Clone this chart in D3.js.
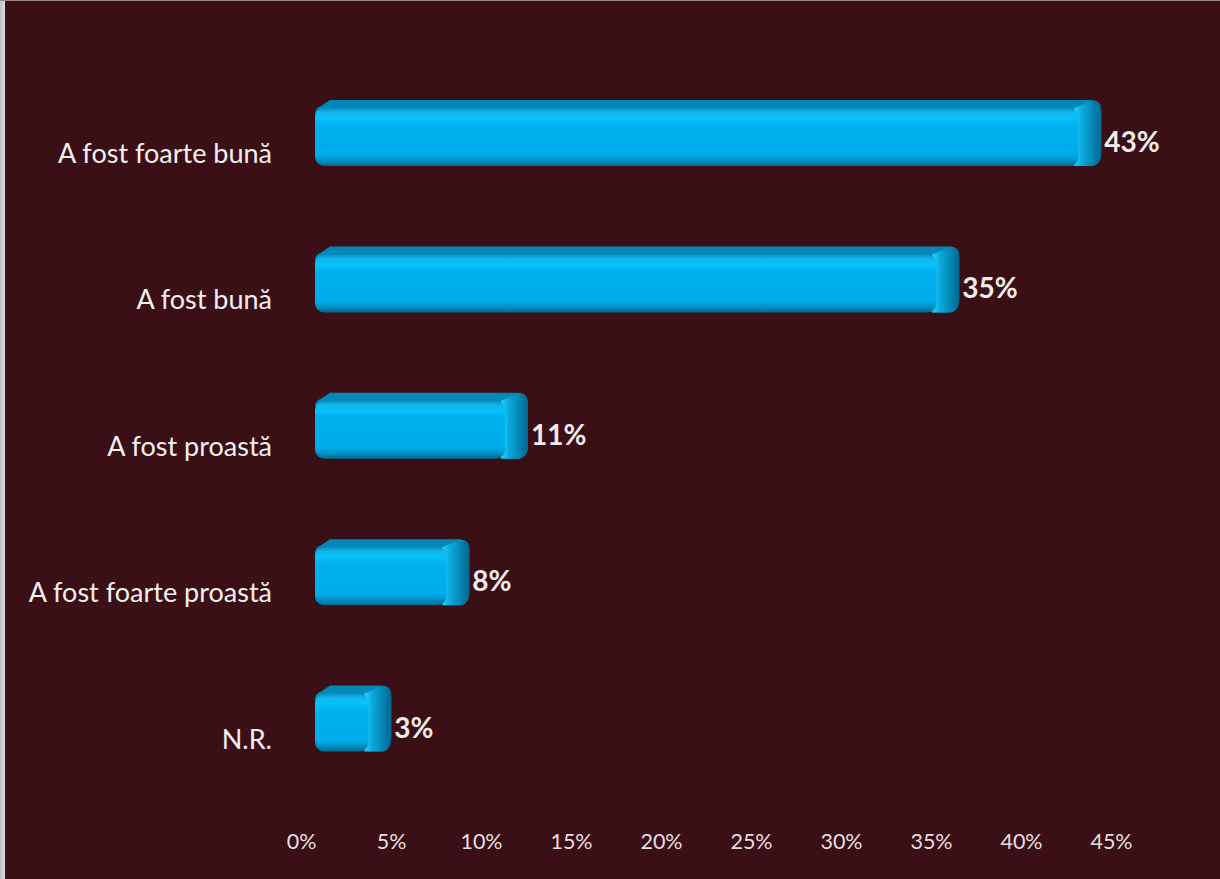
<!DOCTYPE html>
<html><head><meta charset="utf-8">
<script src="https://cdn.jsdelivr.net/npm/d3@7"></script>
<style>html,body{margin:0;padding:0;background:#3b0f16;overflow:hidden}</style>
</head><body><svg id="c" width="1220" height="879"></svg>
<script>
const categories = ["A fost foarte bună","A fost bună","A fost proastă","A fost foarte proastă","N.R."];
const values = [43, 35, 10.7, 7.4, 3];
const valueLabels = ["43%","35%","11%","8%","3%"];
const tickValues = [0,5,10,15,20,25,30,35,40,45];
const tickLabels = ["0%","5%","10%","15%","20%","25%","30%","35%","40%","45%"];

const svg = d3.select("#c");
const W = 1220, H = 879;
svg.append("rect").attr("width",W).attr("height",H).attr("fill","#3b0f16");
const defs = svg.append("defs");
const eg = defs.append("linearGradient").attr("id","edge").attr("x1",0).attr("x2",1);
eg.append("stop").attr("offset",0).attr("stop-color","#bdbdbd");
eg.append("stop").attr("offset",1).attr("stop-color","#dcdcdc");
svg.append("rect").attr("x",0).attr("y",0).attr("width",5).attr("height",H).attr("fill","url(#edge)");
svg.append("rect").attr("x",0).attr("y",0).attr("width",W).attr("height",1).attr("fill","#9a8a8c");

const fg = defs.append("linearGradient").attr("id","front").attr("x1",0).attr("x2",0).attr("y1",0).attr("y2",1);
[[0,"#0a8fc2"],[0.08,"#12b8ee"],[0.17,"#08c2fb"],[0.3,"#00b0ef"],[0.8,"#00adeb"],[0.9,"#0093c8"],[1,"#006890"]]
 .forEach(([o,c])=>fg.append("stop").attr("offset",o).attr("stop-color",c));
const sg = defs.append("linearGradient").attr("id","side").attr("x1",0).attr("x2",1).attr("y1",0).attr("y2",0);
[[0,"#20d2ff"],[0.3,"#0aa8dc"],[1,"#00678e"]].forEach(([o,c])=>sg.append("stop").attr("offset",o).attr("stop-color",c));

const x = d3.scaleLinear().domain([0,45]).range([301,1111]);
const xb = d3.scaleLinear().domain([0,45]).range([315, 315 + 45*17.75]);
const y = d3.scalePoint().domain(categories).range([133, 718.5]);

const dx = 23, dy = 8, half = 33;
const FONT = "Lato, 'Open Sans', sans-serif";

categories.forEach((cat,i)=>{
  const v = values[i];
  const cy = y(cat);
  const top = cy - half, bot = cy + half;
  const x0 = xb(0), x1 = xb(v);
  const g = svg.append("g");
  g.append("path")
   .attr("d", `M${x0},${top+dy+6} Q${x0},${top+dy} ${x0+6},${top+dy-2} L${x0+dx-8},${top} L${x1+dx-10},${top} Q${x1+dx},${top} ${x1+dx},${top+10} L${x1+dx},${bot-dy-6} Q${x1+dx},${bot-2} ${x1+dx-8},${bot} L${x1},${bot} Z`)
   .attr("fill","#0386b8");
  g.append("path")
   .attr("d", `M${x1-4},${top+dy} L${x1+dx-10},${top+1} Q${x1+dx},${top+1} ${x1+dx},${top+11} L${x1+dx},${bot-dy-6} Q${x1+dx},${bot-1} ${x1+dx-10},${bot} L${x1-4},${bot} Z`)
   .attr("fill","url(#side)");
  g.append("rect").attr("x",x0).attr("y",top+dy).attr("width",Math.max(0,x1-x0)).attr("height",bot-top-dy)
   .attr("rx",9).attr("ry",9).attr("fill","url(#front)");
  svg.append("text").attr("x",x1+dx+3).attr("y",cy+19)
   .attr("font-family",FONT).attr("font-weight","bold").attr("font-size",28)
   .attr("fill","#f1ebeb").text(valueLabels[i]);
  svg.append("text").attr("x",272).attr("y",cy+30).attr("text-anchor","end")
   .attr("font-family",FONT).attr("font-size",27)
   .attr("fill","#f3f0f0").text(cat);
});

const ax = d3.axisBottom(x).tickValues(tickValues).tickFormat((d,i)=>tickLabels[i]).tickSize(0).tickPadding(0);
const axg = svg.append("g").attr("transform","translate(0,834)").call(ax);
axg.select(".domain").remove();
axg.selectAll("text").attr("font-family",FONT).attr("font-size",21.5).attr("fill","#e6dfdf");
</script></body></html>
